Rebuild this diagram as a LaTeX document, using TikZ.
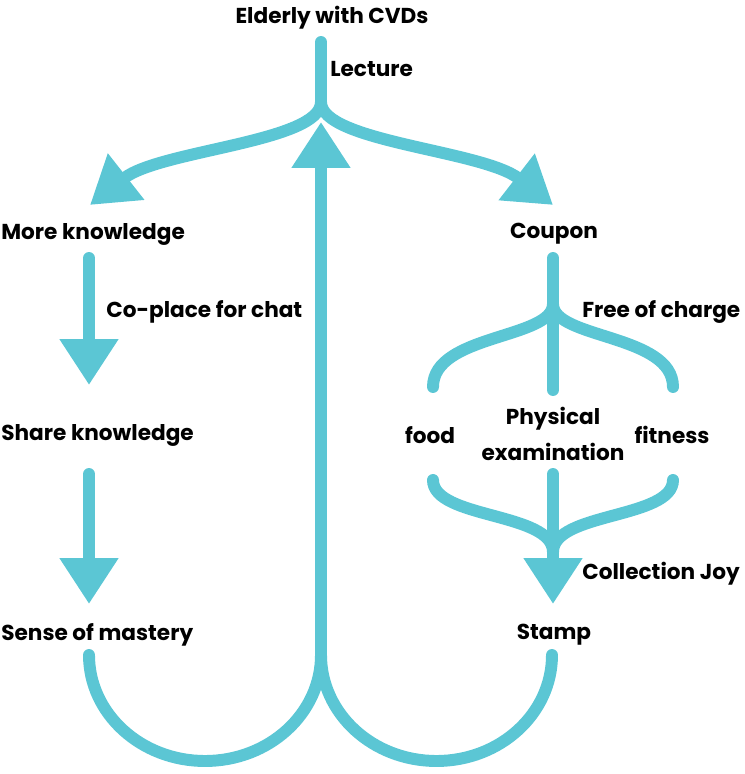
\documentclass[tikz,border=0pt]{standalone}
\usepackage{fontspec}
\setmainfont{Poppins}
\usetikzlibrary{arrows.meta}
\definecolor{flowblue}{HTML}{5BC6D4}
\begin{document}
\begin{tikzpicture}[x=0.02cm,y=0.02cm,
  flow/.style={draw=flowblue,line width=6.8pt,line cap=round},
  tip/.style={-{Triangle[length=0.92cm,width=1.12cm]}},
  lbl/.style={font=\fontsize{12.3}{20.5}\selectfont\bfseries,inner sep=0pt,align=center}]
\useasboundingbox (0,0) rectangle (744,774);
% labels
\node[lbl] (elderly) at (332,756) {Elderly with CVDs};
\node[lbl,anchor=west] (lecture) at (330,705) {Lecture};
\node[lbl,anchor=west] (more) at (1,540) {More knowledge};
\node[lbl] (coupon) at (554,540) {Coupon};
\node[lbl,anchor=west] (coplace) at (106,462) {Co-place for chat};
\node[lbl,anchor=west] (free) at (582,462) {Free of charge};
\node[lbl,anchor=west] (share) at (1,339) {Share knowledge};
\node[lbl] (food) at (430,339) {food};
\node[lbl] (physical) at (553,340) {Physical\\examination};
\node[lbl] (fitness) at (672,339) {fitness};
\node[lbl,anchor=west] (joy) at (582,200) {Collection Joy};
\node[lbl,anchor=west] (sense) at (1,139) {Sense of mastery};
\node[lbl] (stamp) at (554,139) {Stamp};
% junctions and ends
\coordinate (top) at (321,732);
\coordinate (fork) at (321,672);
\coordinate (ltip) at (90,569);
\coordinate (rtip) at (553,569);
\coordinate (join) at (321,119);
\coordinate (uptip) at (321,652);
\coordinate (m1) at (89,516);
\coordinate (m2) at (89,389);
\coordinate (s1) at (89,300);
\coordinate (s2) at (89,170);
\coordinate (c1) at (553,516);
\coordinate (c2) at (553,384);
\coordinate (split) at (553,470);
\coordinate (fa) at (433,387);
\coordinate (fi) at (673,387);
\coordinate (fb) at (433,294);
\coordinate (pb) at (553,300);
\coordinate (ib) at (673,294);
\coordinate (merge) at (553,222);
\coordinate (sttip) at (553,170);
\coordinate (sm) at (89,119);
% lecture fork
\draw[flow] (top) -- (fork);
\draw[flow,tip] (fork) .. controls (321,632) and (160,624) .. (ltip);
\draw[flow,tip] (fork) .. controls (321,632) and (482,624) .. (rtip);
% left column
\draw[flow,tip] (m1) -- (m2);
\draw[flow,tip] (s1) -- (s2);
% coupon braces
\draw[flow] (c1) -- (c2);
\draw[flow] (split) .. controls (553,435) and (433,440) .. (fa);
\draw[flow] (split) .. controls (553,435) and (673,440) .. (fi);
\draw[flow] (fb) .. controls (433,255) and (553,262) .. (merge);
\draw[flow] (ib) .. controls (673,255) and (553,262) .. (merge);
\draw[flow,tip] (pb) -- (sttip);
% loops back
\draw[flow] (sm) arc[start angle=180,end angle=360,x radius=116,y radius=106];
\draw[flow] (join) arc[start angle=180,end angle=360,x radius=115.5,y radius=106];
\draw[flow,tip] (join) -- (uptip);
\end{tikzpicture}
\end{document}
